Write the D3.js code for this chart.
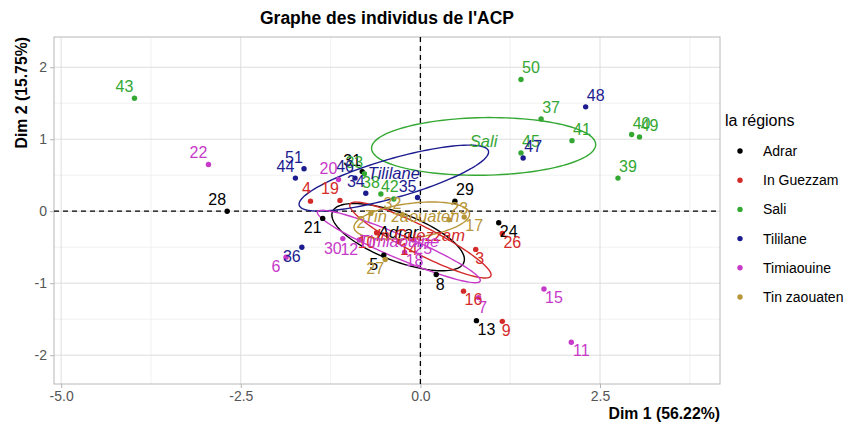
<!DOCTYPE html>
<html><head><meta charset="utf-8">
<script src="https://cdn.jsdelivr.net/npm/d3@7"></script>
<style>
html,body{margin:0;padding:0;background:#fff;}
text{font-family:"Liberation Sans",Arial,sans-serif;}
</style></head>
<body><svg id="c" width="851" height="428"></svg>
<script>
// ---- data ----
const regions = ["Adrar","In Guezzam","Sali","Tililane","Timiaouine","Tin zaouaten"];
const regionColors = ["#000000","#d42a2a","#34a833","#1c1c8f","#c73ac9","#b8963a"];
const xTicks = [-5.0,-2.5,0.0,2.5];
const yTicks = [-2,-1,0,1,2];
// individuals: id, region, Dim1, Dim2
const indId   = [28,21,31,29,24,8,13,5,
                 4,19,26,3,16,9,10,14,
                 43,50,37,41,40,49,39,45,38,42,33,
                 44,51,36,46,34,35,47,48,
                 22,20,30,6,7,15,11,18,12,25,
                 17,27,2,23,32];
const indRegion = ["Adrar","Adrar","Adrar","Adrar","Adrar","Adrar","Adrar","Adrar",
                 "In Guezzam","In Guezzam","In Guezzam","In Guezzam","In Guezzam","In Guezzam","In Guezzam","In Guezzam",
                 "Sali","Sali","Sali","Sali","Sali","Sali","Sali","Sali","Sali","Sali","Sali",
                 "Tililane","Tililane","Tililane","Tililane","Tililane","Tililane","Tililane","Tililane",
                 "Timiaouine","Timiaouine","Timiaouine","Timiaouine","Timiaouine","Timiaouine","Timiaouine","Timiaouine","Timiaouine","Timiaouine",
                 "Tin zaouaten","Tin zaouaten","Tin zaouaten","Tin zaouaten","Tin zaouaten"];
const dim1 = [-2.69,-1.36,-0.81,0.48,1.09,0.22,0.78,-0.51,
              -1.53,-1.12,1.14,0.77,0.60,1.14,-0.61,-0.30,
              -3.98,1.40,1.68,2.11,2.94,3.05,2.75,1.40,-0.55,-0.37,-0.78,
              -1.74,-1.62,-1.65,-0.91,-0.76,-0.04,1.43,2.30,
              -2.95,-1.14,-1.08,-1.87,0.81,1.72,2.10,-0.22,-0.85,-0.10,
              0.61,-0.49,-0.69,0.40,-0.25];
const dim2 = [0.00,-0.10,0.55,0.14,-0.16,-0.88,-1.52,-0.61,
              0.14,0.15,-0.31,-0.53,-1.11,-1.53,-0.30,-0.42,
              1.57,1.83,1.28,0.98,1.065,1.03,0.46,0.81,0.24,0.17,0.52,
              0.46,0.59,-0.50,0.46,0.25,0.19,0.74,1.45,
              0.65,0.44,-0.38,-0.64,-1.20,-1.08,-1.82,-0.57,-0.40,-0.40,
              -0.08,-0.67,-0.03,-0.12,-0.05];
// concentration ellipses per region (center, semi-axes, angle in degrees), data units
const ellCx = [-0.31,0.00,0.88,-0.37,-0.30,-0.12];
const ellCy = [-0.36,-0.40,0.90,0.46,-0.49,-0.13];
const ellA  = [0.98,1.10,1.56,1.37,1.23,0.81];
const ellB  = [0.33,0.19,0.40,0.27,0.16,0.24];
const ellAngle = [-21,-27,1,16,-23,7];

// ---- layout hints for labels (which side of the point) ----
const labelSide = {28:"ul",21:"dl",31:"ul",29:"ur",24:"dr",8:"d",13:"dr",5:"dl",
  4:"u",19:"ul",26:"dr",3:"d",16:"dr",9:"d",10:"dl",14:"dr",
  43:"ul",50:"ur",37:"ur",41:"ur",40:"ur",49:"ur",39:"ur",45:"ur",38:"ul",42:"u",33:"ul",
  44:"ul",51:"ul",36:"dl",46:"ul",34:"ul",35:"ul",47:"ur",48:"ur",
  22:"ul",20:"ul",30:"dl",6:"dl",7:"d",15:"dr",11:"dr",18:"dr",12:"dl",25:"dr",
  17:"dr",27:"dl",2:"dl",23:"ur",32:"ul"};
const sideOff = {ul:[-10,-6],ur:[10,-6],u:[-4,-7],dl:[-10,15],dr:[10,14],d:[4,15]};

const svg = d3.select("#c");
const L=54,R=720,T=37,B=384;
const x = d3.scaleLinear().domain([-5.10,4.17]).range([L,R]);
const y = d3.scaleLinear().domain([-2.40,2.42]).range([B,T]);
const color = d3.scaleOrdinal().domain(regions).range(regionColors);

// minor grid
const xMinor = xTicks.map(v=>v+1.25).filter(v=>v<4.17);
const yMinor = [-1.5,-0.5,0.5,1.5];
const g = svg.append("g");
g.selectAll(".xmin").data(xMinor).join("line")
  .attr("x1",d=>x(d)).attr("x2",d=>x(d)).attr("y1",T).attr("y2",B)
  .attr("stroke","#ededed").attr("stroke-width",0.8);
g.selectAll(".ymin").data(yMinor).join("line")
  .attr("y1",d=>y(d)).attr("y2",d=>y(d)).attr("x1",L).attr("x2",R)
  .attr("stroke","#ededed").attr("stroke-width",0.8);
g.selectAll(".xmaj").data(xTicks).join("line")
  .attr("x1",d=>x(d)).attr("x2",d=>x(d)).attr("y1",T).attr("y2",B)
  .attr("stroke","#dedede").attr("stroke-width",1);
g.selectAll(".ymaj").data(yTicks).join("line")
  .attr("y1",d=>y(d)).attr("y2",d=>y(d)).attr("x1",L).attr("x2",R)
  .attr("stroke","#dedede").attr("stroke-width",1);

// axes
const xAxis = d3.axisBottom(x).tickValues(xTicks).tickFormat(d3.format(".1f")).tickSize(4).tickPadding(3);
const yAxis = d3.axisLeft(y).tickValues(yTicks).tickFormat(d3.format("d")).tickSize(4).tickPadding(3);
const gx = svg.append("g").attr("transform",`translate(0,${B})`).call(xAxis);
const gy = svg.append("g").attr("transform",`translate(${L},0)`).call(yAxis);
[gx,gy].forEach(a=>{
  a.select(".domain").remove();
  a.selectAll(".tick line").attr("stroke","#b3b3b3");
  a.selectAll(".tick text").attr("fill","#555").style("font-size","14px");
});
gx.selectAll(".tick text").text(d=>d3.format(".1f")(d).replace("−","-"));
gy.selectAll(".tick text").text(d=>String(d).replace("−","-"));

// panel border
svg.append("rect").attr("x",L).attr("y",T).attr("width",R-L).attr("height",B-T)
  .attr("fill","none").attr("stroke","#b8b8b8").attr("stroke-width",1);

// dashed reference lines
svg.append("line").attr("x1",x(0)).attr("x2",x(0)).attr("y1",T).attr("y2",B)
  .attr("stroke","#000").attr("stroke-width",1.3).attr("stroke-dasharray","5,4");
svg.append("line").attr("y1",y(0)).attr("y2",y(0)).attr("x1",L).attr("x2",R)
  .attr("stroke","#000").attr("stroke-width",1.3).attr("stroke-dasharray","5,4");

// ellipses
const ells = regions.map((r,i)=>({r,cx:ellCx[i],cy:ellCy[i],a:ellA[i],b:ellB[i],ang:ellAngle[i]}));
const line = d3.line().x(p=>x(p[0])).y(p=>y(p[1])).curve(d3.curveLinearClosed);
const thetas = d3.range(0,360,3).map(t=>t*Math.PI/180);
svg.append("g").selectAll("path").data(ells).join("path")
  .attr("d",e=>{
    const ph=e.ang*Math.PI/180, c=Math.cos(ph), s=Math.sin(ph);
    return line(thetas.map(t=>{
      const u=e.a*Math.cos(t), v=e.b*Math.sin(t);
      return [e.cx+u*c-v*s, e.cy+u*s+v*c];
    }));
  })
  .attr("fill","none").attr("stroke",e=>color(e.r)).attr("stroke-width",1.4);

// points
const pts = indId.map((id,i)=>({id,r:indRegion[i],x:dim1[i],y:dim2[i]}));
svg.append("g").selectAll("circle").data(pts).join("circle")
  .attr("cx",d=>x(d.x)).attr("cy",d=>y(d.y)).attr("r",2.7)
  .attr("fill",d=>color(d.r));
svg.append("g").selectAll("text").data(pts).join("text")
  .attr("x",d=>x(d.x)+sideOff[labelSide[d.id]||"ur"][0])
  .attr("y",d=>y(d.y)+sideOff[labelSide[d.id]||"ur"][1])
  .attr("text-anchor","middle").attr("fill",d=>color(d.r))
  .style("font-size","16px").text(d=>d.id);

// group labels
svg.append("g").selectAll("text").data(ells).join("text")
  .attr("x",e=>x(e.cx)).attr("y",e=>y(e.cy)+1)
  .attr("text-anchor","middle").attr("fill",e=>color(e.r))
  .style("font-size","16.5px").style("font-style","italic").text(e=>e.r);

// title
svg.append("text").attr("x",(L+R)/2).attr("y",24).attr("text-anchor","middle")
  .style("font-size","17.5px").style("font-weight","bold").text("Graphe des individus de l'ACP");
// axis titles
svg.append("text").attr("x",R).attr("y",419).attr("text-anchor","end")
  .style("font-size","15.8px").style("font-weight","bold").text("Dim 1 (56.22%)");
svg.append("text").attr("transform",`translate(27,${T}) rotate(-90)`).attr("text-anchor","end")
  .style("font-size","15.8px").style("font-weight","bold").text("Dim 2 (15.75%)");

// legend
const lg = svg.append("g");
lg.append("text").attr("x",725).attr("y",126).style("font-size","16px").text("la régions");
const items = lg.selectAll("g").data(regions).join("g")
  .attr("transform",(d,i)=>`translate(740,${151+i*29.2})`);
items.append("circle").attr("r",2.7).attr("fill",d=>color(d));
items.append("text").attr("x",23).attr("y",5).style("font-size","14px").text(d=>d);
</script></body></html>
